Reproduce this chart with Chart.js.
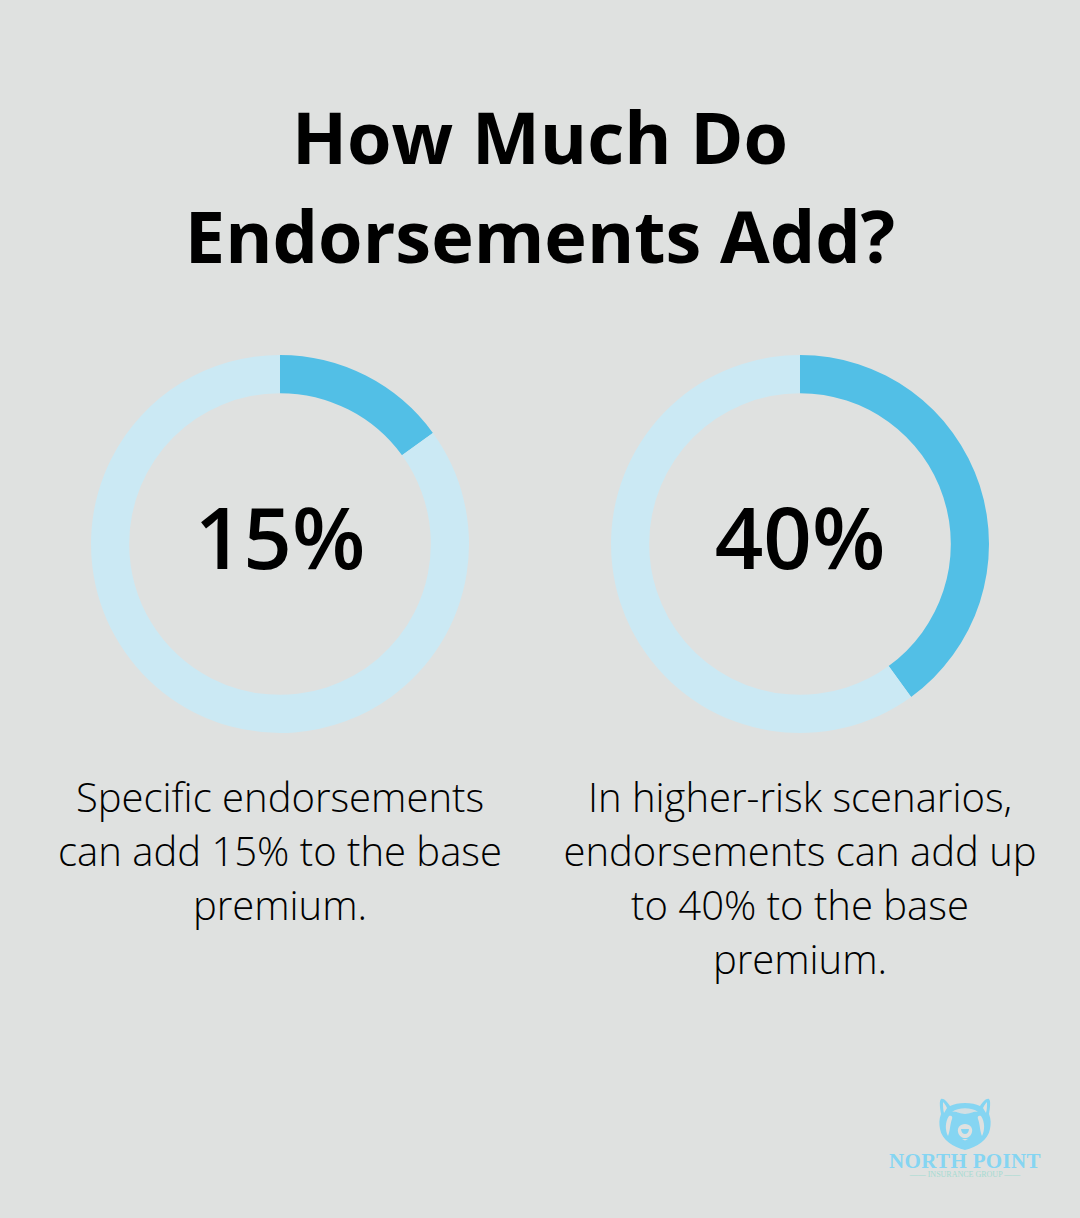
<!DOCTYPE html>
<html>
<head>
<meta charset="utf-8">
<script src="https://cdn.jsdelivr.net/npm/chart.js@4"></script>
<style>
html, body { margin: 0; padding: 0; }
body { width: 1080px; height: 1218px; background: #dfe1e0; position: relative; overflow: hidden; font-family: "Open Sans", sans-serif; color: #000; }
.t { position: absolute; text-align: center; white-space: nowrap; }
h1 { position: absolute; left: 0; width: 1080px; top: 87px; margin: 0; text-align: center; font-size: 72px; line-height: 99px; font-weight: 700; }
.donut { position: absolute; top: 344px; width: 400px; height: 400px; }
.big { font-size: 85px; font-weight: 600; line-height: 100px; top: 486px; width: 400px; }
.desc { font-size: 40px; font-weight: 300; line-height: 54px; top: 770px; width: 520px; }
.logo { position: absolute; left: 865px; width: 200px; text-align: center; font-family: "Liberation Serif", serif; white-space: nowrap; }
</style>
</head>
<body>
<h1>How Much Do<br>Endorsements Add?</h1>

<div class="donut"><canvas id="chartA" width="400" height="400"></canvas></div>
<div class="donut"><canvas id="chartB" width="400" height="400"></canvas></div>

<div class="t big" id="bigA"></div>
<div class="t big" id="bigB"></div>
<div class="t desc" id="descA"></div>
<div class="t desc" id="descB"></div>

<!-- bear logo -->
<svg style="position:absolute;left:935px;top:1094px" width="60" height="60" viewBox="0 0 60 60">
  <path d="M30 9C24 9 19 10 15 12C12 8 9 4 6 5C4 7 5 14 6 20C4 25 4 30 5 35C7 46 18 53 30 56C42 53 53 46 55 35C56 30 56 25 54 20C55 14 56 7 54 5C51 4 48 8 45 12C41 10 36 9 30 9Z" fill="#85d5f2"/>
  <path d="M8 8C8 12 8 16 9 19L12 14C11 12 10 10 8 8ZM52 8C52 12 52 16 51 19L48 14C49 12 50 10 52 8Z" fill="#dfe1e0"/>
  <path d="M17 18C23 13 37 13 43 18C38 17 36 20 30 20C24 20 22 17 17 18Z" fill="#dfe1e0" opacity=".85"/>
  <path d="M14 22C10 28 10 36 13 42C15 38 15 30 17 25C18 22 16 21 14 22ZM46 22C50 28 50 36 47 42C45 38 45 30 43 25C42 22 44 21 46 22Z" fill="#dfe1e0"/>
  <path d="M30 30C25 30 22 34 23 38C24 42 27 44 30 44C33 44 36 42 37 38C38 34 35 30 30 30Z" fill="#dfe1e0"/>
  <path d="M26 35H34C34 38 32 40 30 40C28 40 26 38 26 35Z" fill="#85d5f2"/>
  <path d="M27 45H33L30 46.5Z" fill="#dfe1e0"/>
</svg>
<div class="logo" style="top:1149px;color:#85d5f2;font-size:21px;font-weight:700;line-height:24px;letter-spacing:.35px">NORTH POINT</div>
<div class="logo" style="top:1170px;color:#a5dbd2;font-size:8px;line-height:10px">&#8212;&#8212; INSURANCE GROUP &#8212;&#8212;</div>

<script>
const percents = [15, 40];
const bigLabels = ['15%', '40%'];
const descriptions = [
    'Specific endorsements<br>can add 15% to the base<br>premium.',
    'In higher-risk scenarios,<br>endorsements can add up<br>to 40% to the base<br>premium.'
];
const centers = [280, 800];
const chartIds = ['chartA', 'chartB'];

function renderDonut(elementId, value) {
    const ctx = document.getElementById(elementId).getContext('2d');
    new Chart(ctx, {
        type: 'doughnut',
        data: {
            datasets: [{
                data: [value, 100 - value],
                backgroundColor: ['#52bfe6', '#cbe9f4'],
                borderWidth: 0
            }]
        },
        options: {
            responsive: false,
            animation: false,
            cutout: '79.8%',
            layout: { padding: 11 },
            plugins: { legend: { display: false }, tooltip: { enabled: false } }
        }
    });
}

document.querySelectorAll('.donut').forEach((el, i) => {
    el.style.left = (centers[i] - 200) + 'px';
});
['bigA', 'bigB'].forEach((id, i) => {
    const el = document.getElementById(id);
    el.textContent = bigLabels[i];
    el.style.left = (centers[i] - 200) + 'px';
});
['descA', 'descB'].forEach((id, i) => {
    const el = document.getElementById(id);
    el.innerHTML = descriptions[i];
    el.style.left = (centers[i] - 260) + 'px';
});
chartIds.forEach((id, i) => renderDonut(id, percents[i]));
</script>
</body>
</html>
